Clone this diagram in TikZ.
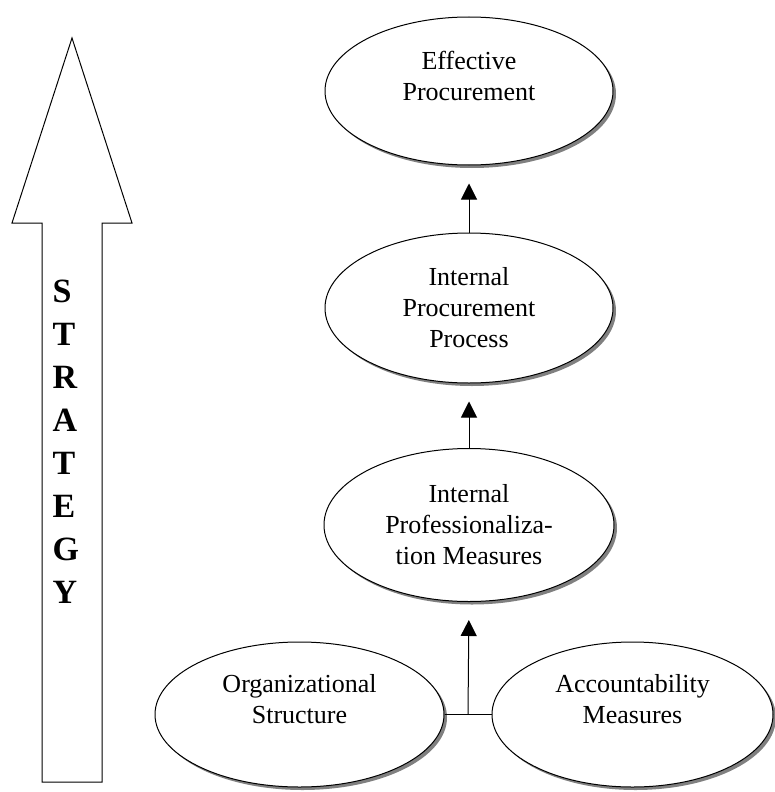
\documentclass[tikz,border=0pt]{standalone}
\usepackage{fontspec}
\setmainfont{Liberation Serif}
\usetikzlibrary{shapes.geometric,shadows,arrows.meta}
\begin{document}
\begin{tikzpicture}[x=1pt, y=-1pt, line width=1pt,
	ell/.style={ellipse, draw, fill=white, inner sep=0pt, align=center,
		font=\fontsize{26}{31}\selectfont,
		drop shadow={shadow xshift=3pt, shadow yshift=-3pt, fill=gray, opacity=1}},
	arr/.style={-{Triangle[length=16pt,width=16pt]}, shorten >=18pt},
	letter/.style={anchor=base west, inner sep=0pt, font=\fontsize{34}{40}\selectfont\bfseries}]
	\useasboundingbox (0,0) rectangle (774,792);
	% strategy arrow
	\draw (72,38) -- (132,223) -- (102,223) -- (102,782) -- (42,782) -- (42,223) -- (12,223) -- cycle;
	\foreach \l [count=\i from 0] in {S,T,R,A,T,E,G,Y}
		\node[letter] (s\i) at (52,302+43*\i) {\l};
	% ellipses
	\node[ell, minimum width=288pt, minimum height=148pt] (eff) at (469,91) {Effective\\Procurement\\~};
	\node[ell, minimum width=288pt, minimum height=150pt] (ipp) at (469,308) {Internal\\Procurement\\Process};
	\node[ell, minimum width=290pt, minimum height=153pt] (ipm) at (469,525) {Internal\\Professionaliza-\\tion Measures};
	\node[ell, minimum width=289pt, minimum height=145pt] (org) at (299.5,714.5) {Organizational\\Structure\\~};
	\node[ell, minimum width=281pt, minimum height=145pt] (acc) at (632.5,714.5) {Accountability\\Measures\\~};
	% connectors
	\draw (org.east) -- (acc.west) coordinate[midway] (junc);
	\draw[arr] (junc) -- (ipm.south);
	\draw[arr] (ipm.north) -- (ipp.south);
	\draw[arr] (ipp.north) -- (eff.south);
\end{tikzpicture}
\end{document}
